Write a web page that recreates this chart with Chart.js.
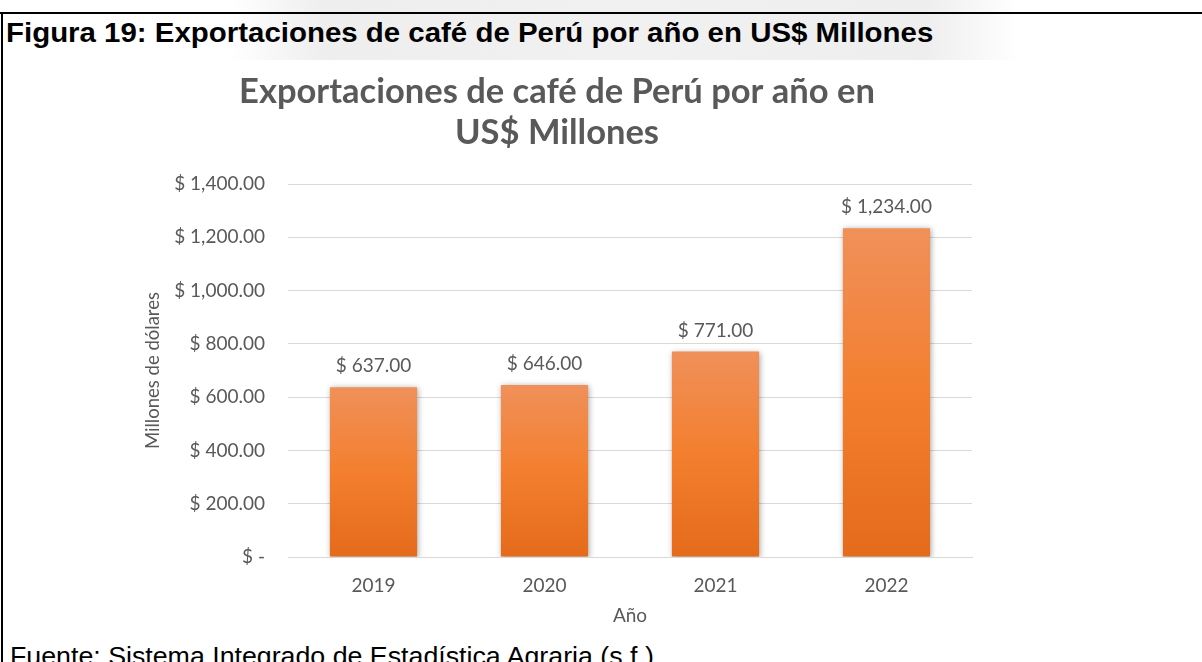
<!DOCTYPE html>
<html lang="es">
<head>
<meta charset="utf-8">
<title>Exportaciones de café de Perú</title>
<script src="https://cdn.jsdelivr.net/npm/chart.js@4"></script>
<style>
  html, body { margin: 0; padding: 0; background: #fff; }
  body { width: 1202px; height: 662px; position: relative; overflow: hidden; }
  .mark { position: absolute; left: 230px; top: 0; width: 790px; height: 60px;
          background: linear-gradient(90deg, rgba(236,236,236,0) 0%, #eeeeee 12%, #f1f1f1 50%, #eeeeee 88%, rgba(236,236,236,0) 100%); }
  .frame-top { position: absolute; left: 0; top: 12px; width: 1202px; height: 2px; background: #000; z-index: 3; }
  .frame-left { position: absolute; left: 1px; top: 12px; width: 2px; height: 650px; background: #000; z-index: 3; }
  .fig-title { position: absolute; left: 6px; top: 18px; font: bold 27px "Liberation Sans", Arial, sans-serif;
               color: #000; white-space: nowrap; z-index: 2; transform: scaleX(1.09); transform-origin: left top; }
  .source { position: absolute; left: 10px; top: 642px; font: 25px "Liberation Sans", Arial, sans-serif;
            color: #000; white-space: nowrap; z-index: 2; transform: scaleX(1.07); transform-origin: left top; }
  #wrap { position: absolute; left: 0; top: 60px; width: 1202px; height: 570px; }
</style>
</head>
<body>
<div class="mark"></div>
<div class="frame-top"></div>
<div class="frame-left"></div>
<div class="fig-title">Figura 19: Exportaciones de café de Perú por año en US$ Millones</div>
<div id="wrap"><canvas id="myChart"></canvas></div>
<div class="source">Fuente: Sistema Integrado de Estadística Agraria (s.f.)</div>
<script>
// Years on the x-axis
var years = ["2019", "2020", "2021", "2022"];
// Coffee exports, millions of US$
var exportsUsd = [637, 646, 771, 1234];
// Axis range
var yMax = 1400;
var yStep = 200;

var grey = "#595959";
var chartFont = "Lato, 'Open Sans', sans-serif";

function money(v) {
  if (v === 0) return "$ -";
  return "$ " + v.toLocaleString("en-US", { minimumFractionDigits: 2, maximumFractionDigits: 2 });
}

// orange fill, lighter at the top of every bar
function barFill(ctx) {
  var chart = ctx.chart;
  if (!chart.chartArea) return "#f07f2f";
  var y = chart.scales.y;
  var top = y.getPixelForValue(ctx.parsed ? ctx.parsed.y : 0);
  var bottom = y.getPixelForValue(0);
  if (!isFinite(top) || top === bottom) return "#f07f2f";
  var g = chart.ctx.createLinearGradient(0, top, 0, bottom);
  g.addColorStop(0, "#f0905a");
  g.addColorStop(0.5, "#f37f2e");
  g.addColorStop(1, "#e46b1b");
  return g;
}

// soft shadow under the bars
const barShadow = {
  id: "barShadow",
  beforeDatasetDraw(chart) {
    const c = chart.ctx;
    c.save();
    c.shadowColor = "rgba(0,0,0,0.35)";
    c.shadowBlur = 6;
    c.shadowOffsetX = 1;
    c.shadowOffsetY = 1;
  },
  afterDatasetDraw(chart) {
    chart.ctx.restore();
  }
};

// value labels above the bars
const valueLabels = {
  id: "valueLabels",
  afterDatasetsDraw(chart) {
    const c = chart.ctx;
    const meta = chart.getDatasetMeta(0);
    c.save();
    c.font = "19px " + chartFont;
    c.fillStyle = grey;
    c.textAlign = "center";
    c.textBaseline = "middle";
    meta.data.forEach(function (bar, i) {
      c.fillText(money(chart.data.datasets[0].data[i]), bar.x, bar.y - 21);
    });
    c.restore();
  }
};

const data = {
  labels: years,
  datasets: [
    {
      data: exportsUsd,
      backgroundColor: barFill,
      borderWidth: 0,
      barPercentage: 0.51,
      categoryPercentage: 1
    }
  ]
};

const config = {
  type: "bar",
  data,
  options: {
    responsive: true,
    maintainAspectRatio: false,
    animation: false,
    layout: { padding: { left: 142, right: 230, top: 0, bottom: 0.6 } },
    plugins: {
      legend: { display: false },
      tooltip: { enabled: false },
      title: {
        display: true,
        text: ["Exportaciones de café de Perú por año en", "US$ Millones"],
        color: grey,
        font: { family: chartFont, size: 34.5, weight: "bold", lineHeight: 1.19 },
        padding: { top: 11.5, bottom: 30.4 }
      }
    },
    scales: {
      x: {
        grid: { display: false, drawTicks: false },
        border: { color: "#d9d9d9" },
        ticks: { color: grey, font: { family: chartFont, size: 19 }, padding: 17 },
        title: {
          display: true,
          text: "Año",
          color: grey,
          font: { family: chartFont, size: 19 },
          padding: { top: -9.2, bottom: 2 }
        }
      },
      y: {
        min: 0,
        max: yMax,
        afterFit(scale) { scale.width = 146; },
        grid: { color: "#d9d9d9", drawTicks: false },
        border: { display: false },
        ticks: {
          stepSize: yStep,
          color: grey,
          font: { family: chartFont, size: 19 },
          padding: 23,
          callback: function (v) { return money(v); }
        },
        title: {
          display: true,
          text: "Millones de dólares",
          color: grey,
          font: { family: chartFont, size: 18.5 },
          padding: 0
        }
      }
    }
  },
  plugins: [barShadow, valueLabels]
};

const myChart = new Chart(document.getElementById("myChart"), config);
</script>
</body>
</html>
